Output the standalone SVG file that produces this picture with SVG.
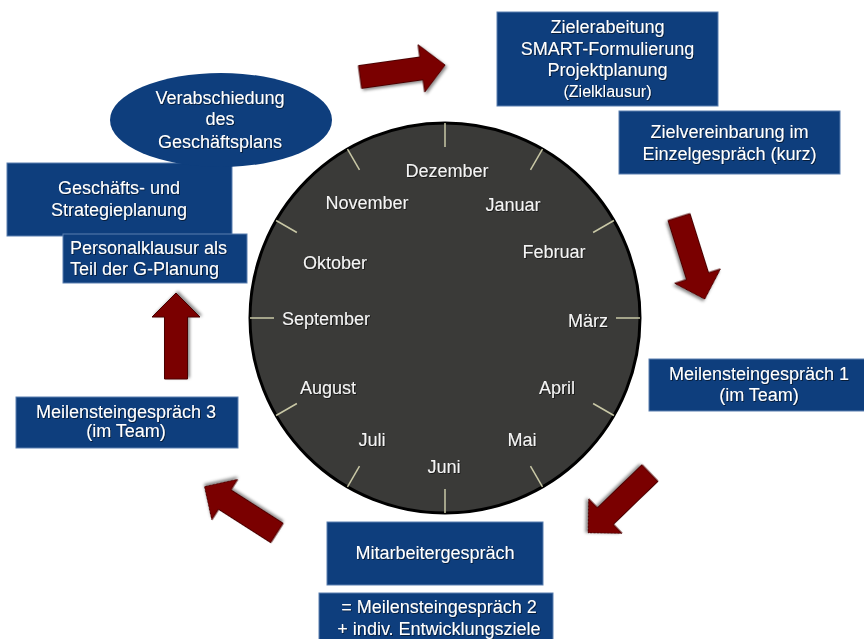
<svg xmlns="http://www.w3.org/2000/svg" width="864" height="639" viewBox="0 0 864 639">
<defs>
<style>
.box{fill:#0e3e7d;stroke:#5a7fb0;stroke-width:1}
.bt{font-family:"Liberation Sans",Arial,sans-serif;font-size:18px;fill:#fff;text-anchor:middle;filter:url(#ts)}
.mt{font-family:"Liberation Sans",Arial,sans-serif;font-size:18px;fill:#f4f4f4;text-anchor:middle;filter:url(#ts)}
.tick{stroke:#c9c8a6;stroke-width:1.5}
.arr{fill:#7a0000;stroke:#4a0000;stroke-width:1;filter:url(#sh)}
</style>
<filter id="sh" x="-20%" y="-20%" width="140%" height="140%">
<feDropShadow dx="1.5" dy="2" stdDeviation="1.5" flood-color="#000" flood-opacity="0.45"/>
</filter>
<filter id="ts" x="-10%" y="-30%" width="120%" height="160%">
<feDropShadow dx="0.8" dy="0.8" stdDeviation="0.6" flood-color="#000" flood-opacity="0.7"/>
</filter>
<polygon id="arrow" points="0,-11.5 62,-11.5 62,-24 86,0 62,24 62,11.5 0,11.5"/>
</defs>
<rect width="864" height="639" fill="#fff"/>

<g id="clock">
<circle cx="445" cy="318" r="195" fill="#3a3a38" stroke="#000" stroke-width="3"/>
<g id="ticks">
<line class="tick" x1="445" y1="123" x2="445" y2="147"/>
<line class="tick" x1="542.5" y1="149.1" x2="530.5" y2="169.9"/>
<line class="tick" x1="613.9" y1="220.5" x2="593.1" y2="232.5"/>
<line class="tick" x1="640" y1="318" x2="616" y2="318"/>
<line class="tick" x1="613.9" y1="415.5" x2="593.1" y2="403.5"/>
<line class="tick" x1="542.5" y1="486.9" x2="530.5" y2="466.1"/>
<line class="tick" x1="445" y1="513" x2="445" y2="489"/>
<line class="tick" x1="347.5" y1="486.9" x2="359.5" y2="466.1"/>
<line class="tick" x1="276.1" y1="415.5" x2="296.9" y2="403.5"/>
<line class="tick" x1="250" y1="318" x2="274" y2="318"/>
<line class="tick" x1="276.1" y1="220.5" x2="296.9" y2="232.5"/>
<line class="tick" x1="347.5" y1="149.1" x2="359.5" y2="169.9"/>
</g>
<text class="mt" x="447" y="177">Dezember</text>
<text class="mt" x="513" y="211">Januar</text>
<text class="mt" x="554" y="258">Februar</text>
<text class="mt" x="588" y="327">März</text>
<text class="mt" x="557" y="394">April</text>
<text class="mt" x="522" y="446">Mai</text>
<text class="mt" x="444" y="473">Juni</text>
<text class="mt" x="372" y="446">Juli</text>
<text class="mt" x="328" y="394">August</text>
<text class="mt" x="326" y="325">September</text>
<text class="mt" x="335" y="269">Oktober</text>
<text class="mt" x="367" y="209">November</text>
</g>

<g id="connectors">
<use href="#arrow" class="arr" transform="translate(360,77) rotate(-8)"/>
<use href="#arrow" class="arr" transform="translate(679,217) rotate(72.6)"/>
<use href="#arrow" class="arr" transform="translate(650,473) rotate(136)"/>
<use href="#arrow" class="arr" transform="translate(277,533) rotate(212.6)"/>
<use href="#arrow" class="arr" transform="translate(176,379) rotate(-90)"/>
</g>

<g id="n-ziel">
<rect class="box" x="497" y="12" width="221" height="94"/>
<text class="bt" x="607.5" y="32.5">Zielerabeitung</text>
<text class="bt" x="607.5" y="55">SMART-Formulierung</text>
<text class="bt" x="607.5" y="76">Projektplanung</text>
<text class="bt" x="607.5" y="97" style="font-size:16px">(Zielklausur)</text>
</g>

<g id="n-zielverein">
<rect class="box" x="619" y="111" width="221" height="63"/>
<text class="bt" x="729.5" y="138">Zielvereinbarung im</text>
<text class="bt" x="729.5" y="160">Einzelgespräch (kurz)</text>
</g>

<g id="n-ms1">
<rect class="box" x="649" y="359" width="220" height="52"/>
<text class="bt" x="759" y="380">Meilensteingespräch 1</text>
<text class="bt" x="759" y="401">(im Team)</text>
</g>

<g id="n-mag">
<rect class="box" x="327" y="522" width="216" height="63"/>
<text class="bt" x="435" y="559">Mitarbeitergespräch</text>
</g>

<g id="n-ms2">
<rect class="box" x="319" y="593" width="234" height="50"/>
<text class="bt" x="439" y="613">= Meilensteingespräch 2</text>
<text class="bt" x="439" y="635">+ indiv. Entwicklungsziele</text>
</g>

<g id="n-ms3">
<rect class="box" x="16" y="397" width="222" height="51"/>
<text class="bt" x="126" y="418">Meilensteingespräch 3</text>
<text class="bt" x="126" y="437">(im Team)</text>
</g>

<g id="n-strategie">
<rect class="box" x="7" y="163" width="225" height="73"/>
<text class="bt" x="119" y="194">Geschäfts- und</text>
<text class="bt" x="119" y="215.5">Strategieplanung</text>
</g>

<g id="n-personal">
<rect class="box" x="63" y="234" width="184" height="49"/>
<text class="bt" x="70" y="254" style="text-anchor:start">Personalklausur als</text>
<text class="bt" x="70" y="275" style="text-anchor:start">Teil der G-Planung</text>
</g>

<g id="n-verab">
<ellipse cx="221" cy="120" rx="111" ry="47" fill="#0e3e7d"/>
<text class="bt" x="220" y="103.5">Verabschiedung</text>
<text class="bt" x="220" y="125">des</text>
<text class="bt" x="220" y="147.5">Geschäftsplans</text>
</g>
</svg>
